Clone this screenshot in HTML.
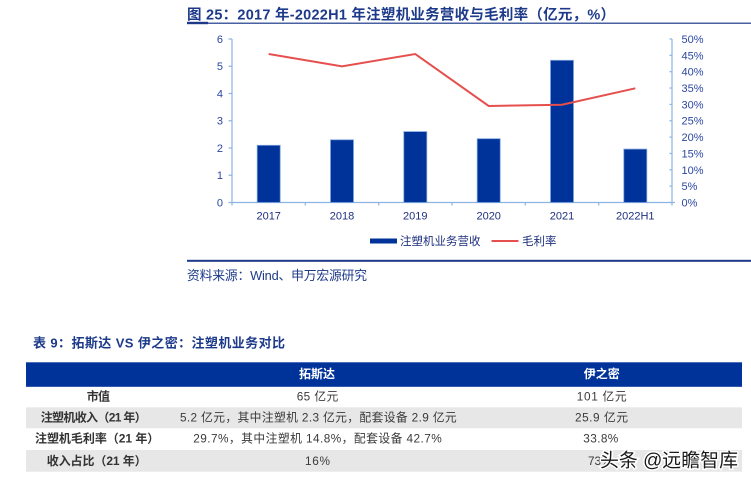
<!DOCTYPE html>
<html>
<head>
<meta charset="utf-8">
<style>
html,body{margin:0;padding:0;background:#fff;}
svg{display:block;}
text{font-family:"Liberation Sans","Noto Sans CJK SC",sans-serif;}
</style>
</head>
<body>
<svg width="751" height="482" viewBox="0 0 751 482" xmlns="http://www.w3.org/2000/svg">
  <!-- Title -->
  <text x="187" y="19.5" font-size="14.5" font-weight="bold" fill="#1d3a8a" textLength="428" lengthAdjust="spacing">图 25：2017 年-2022H1 年注塑机业务营收与毛利率（亿元，%）</text>
  <rect x="187" y="22.6" width="564" height="1.2" fill="#1d3a8a"/>
  <rect x="187" y="21.8" width="21" height="2.4" fill="#1d3a8a"/>

  <!-- Axes -->
  <g stroke="#8db3e2" stroke-width="1.2" fill="none">
    <line x1="232" y1="39" x2="232" y2="202.5"/>
    <line x1="672" y1="39" x2="672" y2="202.5"/>
    <line x1="232" y1="202.5" x2="672" y2="202.5"/>
    <line x1="228.5" y1="39" x2="232" y2="39"/>
    <line x1="228.5" y1="66.25" x2="232" y2="66.25"/>
    <line x1="228.5" y1="93.5" x2="232" y2="93.5"/>
    <line x1="228.5" y1="120.75" x2="232" y2="120.75"/>
    <line x1="228.5" y1="148" x2="232" y2="148"/>
    <line x1="228.5" y1="175.25" x2="232" y2="175.25"/>
    <line x1="228.5" y1="202.5" x2="232" y2="202.5"/>
    <line x1="669.5" y1="39" x2="672" y2="39"/>
    <line x1="669.5" y1="55.35" x2="672" y2="55.35"/>
    <line x1="669.5" y1="71.7" x2="672" y2="71.7"/>
    <line x1="669.5" y1="88.05" x2="672" y2="88.05"/>
    <line x1="669.5" y1="104.4" x2="672" y2="104.4"/>
    <line x1="669.5" y1="120.75" x2="672" y2="120.75"/>
    <line x1="669.5" y1="137.1" x2="672" y2="137.1"/>
    <line x1="669.5" y1="153.45" x2="672" y2="153.45"/>
    <line x1="669.5" y1="169.8" x2="672" y2="169.8"/>
    <line x1="669.5" y1="186.15" x2="672" y2="186.15"/>
    <line x1="669.5" y1="202.5" x2="675" y2="202.5"/>
    <line x1="232" y1="202.5" x2="232" y2="205.5"/>
    <line x1="305.3" y1="202.5" x2="305.3" y2="205.5"/>
    <line x1="378.7" y1="202.5" x2="378.7" y2="205.5"/>
    <line x1="452" y1="202.5" x2="452" y2="205.5"/>
    <line x1="525.3" y1="202.5" x2="525.3" y2="205.5"/>
    <line x1="598.7" y1="202.5" x2="598.7" y2="205.5"/>
    <line x1="672" y1="202.5" x2="672" y2="205.5"/>
  </g>

  <!-- Left labels -->
  <g font-size="11" fill="#2a47a3" text-anchor="end">
    <text x="223" y="43">6</text>
    <text x="223" y="70.2">5</text>
    <text x="223" y="97.5">4</text>
    <text x="223" y="124.7">3</text>
    <text x="223" y="152">2</text>
    <text x="223" y="179.2">1</text>
    <text x="223" y="206.5">0</text>
  </g>
  <!-- Right labels -->
  <g font-size="11" fill="#2a47a3">
    <text x="681.5" y="43">50%</text>
    <text x="681.5" y="59.3">45%</text>
    <text x="681.5" y="75.7">40%</text>
    <text x="681.5" y="92">35%</text>
    <text x="681.5" y="108.4">30%</text>
    <text x="681.5" y="124.7">25%</text>
    <text x="681.5" y="141.1">20%</text>
    <text x="681.5" y="157.4">15%</text>
    <text x="681.5" y="173.8">10%</text>
    <text x="681.5" y="190.1">5%</text>
    <text x="681.5" y="206.5">0%</text>
  </g>

  <!-- Bars -->
  <g fill="#003399" stroke="#7aa2dc" stroke-width="0.8">
    <rect x="257.2" y="145.3" width="23" height="57.2"/>
    <rect x="330.5" y="139.8" width="23" height="62.7"/>
    <rect x="403.8" y="131.6" width="23" height="70.9"/>
    <rect x="477.2" y="138.7" width="23" height="63.8"/>
    <rect x="550.5" y="60.3" width="23" height="142.2"/>
    <rect x="623.8" y="149.1" width="23" height="53.4"/>
  </g>

  <!-- Line -->
  <polyline points="268.7,54 342,66.3 415.3,54 488.7,106 562,104.7 635.3,88.3" fill="none" stroke="#e5504e" stroke-width="2"/>

  <!-- X labels -->
  <g font-size="11" fill="#1f307f" text-anchor="middle">
    <text x="268.7" y="219.7">2017</text>
    <text x="342" y="219.7">2018</text>
    <text x="415.3" y="219.7">2019</text>
    <text x="488.7" y="219.7">2020</text>
    <text x="562" y="219.7">2021</text>
    <text x="635.3" y="219.7">2022H1</text>
  </g>

  <!-- Legend -->
  <rect x="370" y="238.5" width="27" height="5" fill="#003399"/>
  <text x="400" y="245" font-size="11.5" fill="#1f307f">注塑机业务营收</text>
  <line x1="491.5" y1="241" x2="518.5" y2="241" stroke="#e5504e" stroke-width="2"/>
  <text x="522" y="245" font-size="11.5" fill="#1f307f">毛利率</text>

  <!-- Separator -->
  <rect x="187" y="259.8" width="564" height="2" fill="#1d3a8a"/>
  <text x="187" y="279.8" font-size="12.8" fill="#1d3a8a" textLength="180" lengthAdjust="spacing">资料来源：Wind、申万宏源研究</text>

  <!-- Table title -->
  <text x="33" y="347.3" font-size="13" font-weight="bold" fill="#1d3a8a" textLength="252" lengthAdjust="spacing">表 9：拓斯达 VS 伊之密：注塑机业务对比</text>

  <!-- Table -->
  <rect x="26" y="362.3" width="716" height="24.5" fill="#003399"/>
  <rect x="26" y="407.3" width="716" height="21" fill="#e7e7e7"/>
  <rect x="26" y="450" width="716" height="21.7" fill="#e7e7e7"/>

  <g font-size="12" font-weight="bold" fill="#ffffff" text-anchor="middle">
    <text x="317" y="377.8">拓斯达</text>
    <text x="601.7" y="377.8">伊之密</text>
  </g>

  <g font-size="12" font-weight="bold" fill="#333333">
    <text x="86.7" y="400.5" textLength="23.3" lengthAdjust="spacing">市值</text>
    <text x="40.7" y="421.6" textLength="106" lengthAdjust="spacing">注塑机收入（21 年）</text>
    <text x="35" y="442.7" textLength="124.3" lengthAdjust="spacing">注塑机毛利率（21 年）</text>
    <text x="46.7" y="465" textLength="100" lengthAdjust="spacing">收入占比（21 年）</text>
  </g>

  <g font-size="11.8" fill="#3a3a3a">
    <text x="296.7" y="400.5" textLength="41.6" lengthAdjust="spacing">65 亿元</text>
    <text x="180" y="421.6" textLength="276.7" lengthAdjust="spacing">5.2 亿元，其中注塑机 2.3 亿元，配套设备 2.9 亿元</text>
    <text x="193.3" y="442.7" textLength="248.4" lengthAdjust="spacing">29.7%，其中注塑机 14.8%，配套设备 42.7%</text>
    <text x="305" y="465" textLength="25" lengthAdjust="spacing">16%</text>
    <text x="576.7" y="400.5" textLength="50" lengthAdjust="spacing">101 亿元</text>
    <text x="575" y="421.6" textLength="53" lengthAdjust="spacing">25.9 亿元</text>
    <text x="583.3" y="442.7" textLength="35" lengthAdjust="spacing">33.8%</text>
    <text x="588" y="465">73%</text>
  </g>

  <!-- Watermark -->
  <text x="600" y="466.5" font-size="19" fill="#1a1a1a" stroke="#ffffff" stroke-width="3" paint-order="stroke" font-family="Noto Sans CJK SC, sans-serif" textLength="138" lengthAdjust="spacingAndGlyphs">头条 @远瞻智库</text>
</svg>
</body>
</html>
